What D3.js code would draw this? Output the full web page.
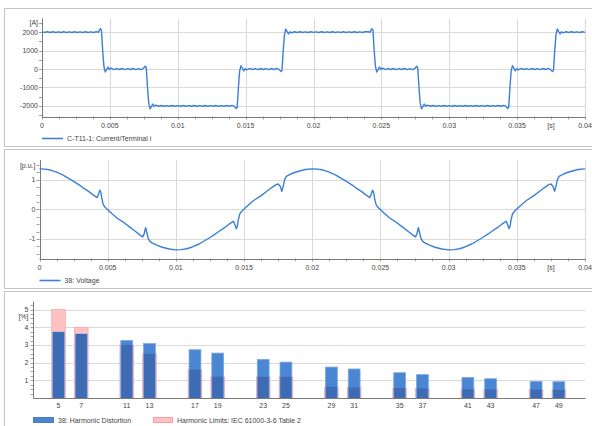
<!DOCTYPE html>
<html lang="en">
<head>
<meta charset="UTF-8">
<title>Current, voltage and harmonics</title>
<style>
    body { margin: 0; background: #fff; }
    svg text { font-family: "Liberation Sans", Arial, sans-serif; font-size: 7px; fill: #444; }
</style>
</head>
<body>
<script src="https://cdn.jsdelivr.net/npm/d3@7/dist/d3.min.js"></script>
<script>

    // ---- data ----
    var timeTicks = [0, 0.005, 0.01, 0.015, 0.02, 0.025, 0.03, 0.035, 0.04];
    var timeTickLabels = ["0", "0.005", "0.01", "0.015", "0.02", "0.025", "0.03", "0.035", "0.04"];
    var currentTicks = [-2000, -1000, 0, 1000, 2000];
    var voltageTicks = [-1, 0, 1];
    var percentTicks = [1, 2, 3, 4, 5];

    var harmonics  = [5, 7, 11, 13, 17, 19, 23, 25, 29, 31, 35, 37, 41, 43, 47, 49];
    var distortion = [3.73, 3.62, 3.25, 3.08, 2.73, 2.54, 2.18, 2.03, 1.75, 1.64, 1.43, 1.32, 1.16, 1.09, 0.94, 0.92];
    var limits     = [5, 4, 3, 2.5, 1.6, 1.2, 1.2, 1.2, 0.63, 0.6, 0.56, 0.54, 0.5, 0.49, 0.47, 0.46];

    // [time in ms, current in A]
    var current = [
        [0,2005],[0.2,1985],[0.4,2020],[0.6,1980],[0.8,2020],[1.0,1982],[1.2,2018],[1.4,1980],[1.6,2020],[1.8,1982],
        [2.0,2018],[2.2,1980],[2.4,2020],[2.6,1982],[2.8,2018],[3.0,1980],[3.2,2020],[3.4,1982],[3.6,2018],[3.8,1980],
        [4.0,2030],[4.15,1985],[4.3,2190],[4.38,2100],[4.47,1000],[4.56,150],[4.66,-160],[4.76,-30],[4.86,110],[4.96,-20],
        [5.08,50],[5.3,-30],[5.5,25],[5.7,-25],[5.9,28],[6.1,-28],[6.3,25],[6.5,-25],[6.7,28],[6.9,-28],[7.1,25],[7.3,-30],
        [7.45,20],[7.6,150],[7.68,70],[7.77,-1000],[7.86,-1850],[7.96,-2160],[8.06,-2030],[8.16,-1900],[8.26,-2020],[8.38,-1960],
        [8.6,-2020],[8.8,-1980],[9.0,-2020],[9.2,-1982],[9.4,-2018],[9.6,-1980],[9.8,-2020],[10.0,-1982],[10.2,-2018],[10.4,-1980],
        [10.6,-2020],[10.8,-1982],[11.0,-2018],[11.2,-1980],[11.4,-2020],[11.6,-1982],[11.8,-2018],[12.0,-1980],[12.2,-2020],
        [12.4,-1982],[12.6,-2018],[12.8,-1980],[13.0,-2020],[13.2,-1982],[13.4,-2018],[13.6,-1980],[13.8,-2020],[14.0,-1975],
        [14.15,-2010],[14.3,-2140],[14.38,-2080],[14.47,-1000],[14.56,-100],[14.66,180],[14.76,40],[14.86,-100],[14.96,20],
        [15.08,-50],[15.3,30],[15.5,-25],[15.7,25],[15.9,-28],[16.1,28],[16.3,-25],[16.5,25],[16.7,-28],[16.9,28],[17.1,-25],
        [17.3,30],[17.45,-20],[17.6,-140],[17.68,-70],[17.77,1000],[17.86,1850],[17.96,2170],[18.06,2030],[18.16,1900],
        [18.26,2020],[18.38,1960],[18.6,2020],[18.8,1980],[19.0,2020],[19.2,1982],[19.4,2018],[19.6,1980],[19.8,2020],
        [20.0,1985],[20.2,2018],[20.4,1980],[20.6,2020],[20.8,1982],[21.0,2018],[21.2,1980],[21.4,2020],[21.6,1982],[21.8,2018],
        [22.0,1980],[22.2,2020],[22.4,1982],[22.6,2018],[22.8,1980],[23.0,2020],[23.2,1982],[23.4,2018],[23.6,1980],[23.8,2020],
        [24.0,2030],[24.15,1985],[24.3,2190],[24.38,2100],[24.47,1000],[24.56,150],[24.66,-160],[24.76,-30],[24.86,110],[24.96,-20],
        [25.08,50],[25.3,-30],[25.5,25],[25.7,-25],[25.9,28],[26.1,-28],[26.3,25],[26.5,-25],[26.7,28],[26.9,-28],[27.1,25],[27.3,-30],
        [27.45,20],[27.6,150],[27.68,70],[27.77,-1000],[27.86,-1850],[27.96,-2160],[28.06,-2030],[28.16,-1900],[28.26,-2020],[28.38,-1960],
        [28.6,-2020],[28.8,-1980],[29.0,-2020],[29.2,-1982],[29.4,-2018],[29.6,-1980],[29.8,-2020],[30.0,-1982],[30.2,-2018],[30.4,-1980],
        [30.6,-2020],[30.8,-1982],[31.0,-2018],[31.2,-1980],[31.4,-2020],[31.6,-1982],[31.8,-2018],[32.0,-1980],[32.2,-2020],
        [32.4,-1982],[32.6,-2018],[32.8,-1980],[33.0,-2020],[33.2,-1982],[33.4,-2018],[33.6,-1980],[33.8,-2020],[34.0,-1975],
        [34.15,-2010],[34.3,-2140],[34.38,-2080],[34.47,-1000],[34.56,-100],[34.66,180],[34.76,40],[34.86,-100],[34.96,20],
        [35.08,-50],[35.3,30],[35.5,-25],[35.7,25],[35.9,-28],[36.1,28],[36.3,-25],[36.5,25],[36.7,-28],[36.9,28],[37.1,-25],
        [37.3,30],[37.45,-20],[37.6,-140],[37.68,-70],[37.77,1000],[37.86,1850],[37.96,2170],[38.06,2030],[38.16,1900],
        [38.26,2020],[38.38,1960],[38.6,2020],[38.8,1980],[39.0,2020],[39.2,1982],[39.4,2018],[39.6,1980],[39.8,2020],[40.0,1990]
    ];

    // [time in ms, voltage in p.u.]
    var voltage = [
        [0,1.37],[0.4,1.36],[0.8,1.33],[1.2,1.27],[1.7,1.17],[2.1,1.06],[2.5,0.95],[2.9,0.83],[3.2,0.73],[3.6,0.61],
        [3.9,0.50],[4.1,0.44],[4.22,0.40],[4.32,0.50],[4.42,0.65],[4.5,0.58],[4.58,0.35],[4.68,0.16],[4.8,0.08],[5.0,-0.01],
        [5.3,-0.14],[5.7,-0.30],[6.2,-0.45],[6.6,-0.59],[7.0,-0.73],[7.35,-0.86],[7.57,-0.93],[7.68,-0.82],[7.78,-0.62],
        [7.87,-0.78],[7.97,-0.98],[8.1,-1.08],[8.25,-1.13],[8.6,-1.21],[9.0,-1.28],[9.5,-1.34],[10.0,-1.37],
        [10.4,-1.36],[10.8,-1.33],[11.2,-1.27],[11.7,-1.17],[12.1,-1.06],[12.5,-0.95],[12.9,-0.83],[13.2,-0.73],[13.6,-0.61],
        [13.9,-0.50],[14.1,-0.44],[14.22,-0.40],[14.32,-0.50],[14.42,-0.65],[14.5,-0.58],[14.58,-0.35],[14.68,-0.16],[14.8,-0.08],
        [15.0,0.01],[15.3,0.14],[15.7,0.30],[16.2,0.45],[16.6,0.59],[17.0,0.73],[17.35,0.84],[17.5,0.86],[17.65,0.78],[17.77,0.61],
        [17.87,0.78],[17.97,1.0],[18.1,1.12],[18.3,1.17],[18.6,1.23],[19.0,1.29],[19.5,1.35],[20.0,1.37],
        [20.4,1.36],[20.8,1.33],[21.2,1.27],[21.7,1.17],[22.1,1.06],[22.5,0.95],[22.9,0.83],[23.2,0.73],[23.6,0.61],
        [23.9,0.50],[24.1,0.44],[24.22,0.40],[24.32,0.50],[24.42,0.65],[24.5,0.58],[24.58,0.35],[24.68,0.16],[24.8,0.08],[25.0,-0.01],
        [25.3,-0.14],[25.7,-0.30],[26.2,-0.45],[26.6,-0.59],[27.0,-0.73],[27.35,-0.86],[27.57,-0.93],[27.68,-0.82],[27.78,-0.62],
        [27.87,-0.78],[27.97,-0.98],[28.1,-1.08],[28.25,-1.13],[28.6,-1.21],[29.0,-1.28],[29.5,-1.34],[30.0,-1.37],
        [30.4,-1.36],[30.8,-1.33],[31.2,-1.27],[31.7,-1.17],[32.1,-1.06],[32.5,-0.95],[32.9,-0.83],[33.2,-0.73],[33.6,-0.61],
        [33.9,-0.50],[34.1,-0.44],[34.22,-0.40],[34.32,-0.50],[34.42,-0.65],[34.5,-0.58],[34.58,-0.35],[34.68,-0.16],[34.8,-0.08],
        [35.0,0.01],[35.3,0.14],[35.7,0.30],[36.2,0.45],[36.6,0.59],[37.0,0.73],[37.35,0.84],[37.5,0.86],[37.65,0.78],[37.77,0.61],
        [37.87,0.78],[37.97,1.0],[38.1,1.12],[38.3,1.17],[38.6,1.23],[39.0,1.29],[39.5,1.35],[40.0,1.37]
    ];

    var lineColor = "#3b7fd6";
    var gridColor = "#d9d9d9";
    var axisColor = "#7a7a7a";

    var svg = d3.select("body").append("svg")
        .attr("width", 592)
        .attr("height", 426);

    // panel frames
    [[8.5, 138], [149.5, 139], [291.5, 200]].forEach(function(p){
        svg.append("rect")
            .attr("x", 4.5).attr("y", p[0])
            .attr("width", 620).attr("height", p[1])
            .attr("fill", "none")
            .attr("stroke", "#c4c4c4");
    });

    function drawTimeChart(cfg){
        var g = svg.append("g");
        var x = d3.scaleLinear().domain([0, 0.04]).range([cfg.left, 585]);
        var y = d3.scaleLinear().domain(cfg.yDomain).range([cfg.bottom, cfg.top]);

        // grid
        g.selectAll(".vgrid").data(timeTicks).enter().append("line")
            .attr("x1", function(d){ return Math.round(x(d)) + 0.5; })
            .attr("x2", function(d){ return Math.round(x(d)) + 0.5; })
            .attr("y1", cfg.top).attr("y2", cfg.bottom + 3)
            .attr("stroke", gridColor);
        g.selectAll(".hgrid").data(cfg.yTicks).enter().append("line")
            .attr("x1", cfg.left).attr("x2", 585)
            .attr("y1", function(d){ return Math.round(y(d)) + 0.5; })
            .attr("y2", function(d){ return Math.round(y(d)) + 0.5; })
            .attr("stroke", gridColor);

        // minor ticks
        g.selectAll(".xminor").data(d3.range(0, 0.04001, 0.00125)).enter().append("line")
            .attr("x1", function(d){ return Math.round(x(d)) + 0.5; })
            .attr("x2", function(d){ return Math.round(x(d)) + 0.5; })
            .attr("y1", cfg.bottom).attr("y2", cfg.bottom + 3)
            .attr("stroke", "#a0a0a0");
        g.selectAll(".yminor").data(d3.range(cfg.yMinor[0], cfg.yMinor[1] + 1e-9, cfg.yMinor[2])).enter().append("line")
            .attr("x1", cfg.left - 3).attr("x2", cfg.left)
            .attr("y1", function(d){ return Math.round(y(d)) + 0.5; })
            .attr("y2", function(d){ return Math.round(y(d)) + 0.5; })
            .attr("stroke", "#a0a0a0");

        // axis lines
        g.append("line")
            .attr("x1", Math.round(cfg.left) + 0.5).attr("x2", Math.round(cfg.left) + 0.5)
            .attr("y1", cfg.top).attr("y2", cfg.bottom + 0.5)
            .attr("stroke", axisColor);
        g.append("line")
            .attr("x1", cfg.left).attr("x2", 585.5)
            .attr("y1", Math.round(cfg.bottom) + 0.5).attr("y2", Math.round(cfg.bottom) + 0.5)
            .attr("stroke", axisColor);

        // labels
        g.selectAll(".xlab").data(timeTicks).enter().append("text")
            .attr("x", function(d){ return x(d); })
            .attr("y", cfg.bottom + 11)
            .attr("text-anchor", "middle")
            .text(function(d, i){ return timeTickLabels[i]; });
        g.append("text")
            .attr("x", x(0.0375)).attr("y", cfg.bottom + 11)
            .attr("text-anchor", "middle")
            .text("[s]");
        g.selectAll(".ylab").data(cfg.yTicks).enter().append("text")
            .attr("x", cfg.left - 4)
            .attr("y", function(d){ return y(d) + 2.5; })
            .attr("text-anchor", "end")
            .text(function(d){ return d; });
        g.append("text")
            .attr("x", cfg.left - 4).attr("y", cfg.unitY)
            .attr("text-anchor", "end")
            .text(cfg.unit);

        // series
        var line = d3.line()
            .x(function(d){ return x(d[0] / 1000); })
            .y(function(d){ return y(d[1]); });
        g.append("path")
            .datum(cfg.data)
            .attr("d", line)
            .attr("fill", "none")
            .attr("stroke", lineColor)
            .attr("stroke-width", 1.4)
            .attr("stroke-linejoin", "round");

        // legend
        g.append("line")
            .attr("x1", cfg.left).attr("x2", cfg.left + 21)
            .attr("y1", cfg.legendY).attr("y2", cfg.legendY)
            .attr("stroke", lineColor).attr("stroke-width", 1.6);
        g.append("text")
            .attr("x", cfg.left + 25).attr("y", cfg.legendY + 2.5)
            .text(cfg.legend);
    }

    drawTimeChart({
        left: 42, top: 18.5, bottom: 116.5,
        yDomain: [-2575, 2740], yTicks: currentTicks, yMinor: [-2500, 2500, 500],
        unit: "[A]", unitY: 24.5,
        data: current,
        legendY: 138.5, legend: "C-T11-1: Current/Terminal i"
    });

    drawTimeChart({
        left: 39.5, top: 160, bottom: 258.5,
        yDomain: [-1.66, 1.67], yTicks: voltageTicks, yMinor: [-1.5, 1.5, 0.25],
        unit: "[p.u.]", unitY: 168,
        data: voltage,
        legendY: 280.5, legend: "38: Voltage"
    });

    // ---- harmonic spectrum ----
    function drawSpectrum(){
        var g = svg.append("g");
        var left = 33.5, top = 301.5, bottom = 398.5;
        var x = d3.scaleLinear().domain([2.8, 51.3]).range([left, 585]);
        var y = d3.scaleLinear().domain([0, 5.46]).range([398, top]);

        g.selectAll(".hgrid").data(percentTicks).enter().append("line")
            .attr("x1", left).attr("x2", 585)
            .attr("y1", function(d){ return Math.round(y(d)) + 0.5; })
            .attr("y2", function(d){ return Math.round(y(d)) + 0.5; })
            .attr("stroke", gridColor);
        g.selectAll(".yminor").data(d3.range(0.25, 5.26, 0.25)).enter().append("line")
            .attr("x1", left - 3).attr("x2", left)
            .attr("y1", function(d){ return Math.round(y(d)) + 0.5; })
            .attr("y2", function(d){ return Math.round(y(d)) + 0.5; })
            .attr("stroke", "#a0a0a0");

        var rows = harmonics.map(function(h, i){
            return { h: h, dist: distortion[i], limit: limits[i] };
        });

        // limits (pink, wider)
        g.selectAll(".limit").data(rows).enter().append("rect")
            .attr("x", function(d){ return x(d.h - 0.6); })
            .attr("width", function(d){ return x(d.h + 0.6) - x(d.h - 0.6); })
            .attr("y", function(d){ return y(d.limit); })
            .attr("height", function(d){ return y(0) - y(d.limit); })
            .attr("fill", "#ffc2c2")
            .attr("stroke", "#ffa6a6")
            .attr("stroke-width", 0.8);

        // distortion (blue)
        g.selectAll(".dist").data(rows).enter().append("rect")
            .attr("x", function(d){ return x(d.h - 0.52); })
            .attr("width", function(d){ return x(d.h + 0.52) - x(d.h - 0.52); })
            .attr("y", function(d){ return y(d.dist); })
            .attr("height", function(d){ return y(0) - y(d.dist); })
            .attr("fill", "#4a86d2")
            .attr("stroke", "#78a8e4")
            .attr("stroke-width", 0.8);

        // overlap of both is shown darker
        g.selectAll(".both").data(rows).enter().append("rect")
            .attr("x", function(d){ return x(d.h - 0.52) + 0.4; })
            .attr("width", function(d){ return x(d.h + 0.52) - x(d.h - 0.52) - 0.8; })
            .attr("y", function(d){ return y(Math.min(d.dist, d.limit)); })
            .attr("height", function(d){ return y(0) - y(Math.min(d.dist, d.limit)); })
            .attr("fill", "#3d6cb4");

        g.append("line")
            .attr("x1", left).attr("x2", left)
            .attr("y1", top).attr("y2", bottom)
            .attr("stroke", axisColor);
        g.append("line")
            .attr("x1", left).attr("x2", 585.5)
            .attr("y1", bottom).attr("y2", bottom)
            .attr("stroke", axisColor);

        g.selectAll(".xlab").data(harmonics).enter().append("text")
            .attr("x", function(d){ return x(d); })
            .attr("y", bottom + 9)
            .attr("text-anchor", "middle")
            .text(function(d){ return d; });
        g.selectAll(".ylab").data(percentTicks).enter().append("text")
            .attr("x", left - 5)
            .attr("y", function(d){ return y(d) + 2.5; })
            .attr("text-anchor", "end")
            .text(function(d){ return d; });
        g.append("text")
            .attr("x", left - 5).attr("y", 319)
            .attr("text-anchor", "end")
            .text("[%]");

        // legend
        g.append("rect")
            .attr("x", 33.5).attr("y", 417.5).attr("width", 20).attr("height", 5)
            .attr("fill", "#4a86d2").attr("stroke", "#3d6cb4").attr("stroke-width", 0.8);
        g.append("text").attr("x", 58).attr("y", 422.5).text("38: Harmonic Distortion");
        g.append("rect")
            .attr("x", 153.5).attr("y", 417.5).attr("width", 19).attr("height", 5)
            .attr("fill", "#ffc2c2").attr("stroke", "#ff8a8a").attr("stroke-width", 0.8);
        g.append("text").attr("x", 177).attr("y", 422.5).text("Harmonic Limits: IEC 61000-3-6 Table 2");
    }

    drawSpectrum();

</script>
</body>
</html>
